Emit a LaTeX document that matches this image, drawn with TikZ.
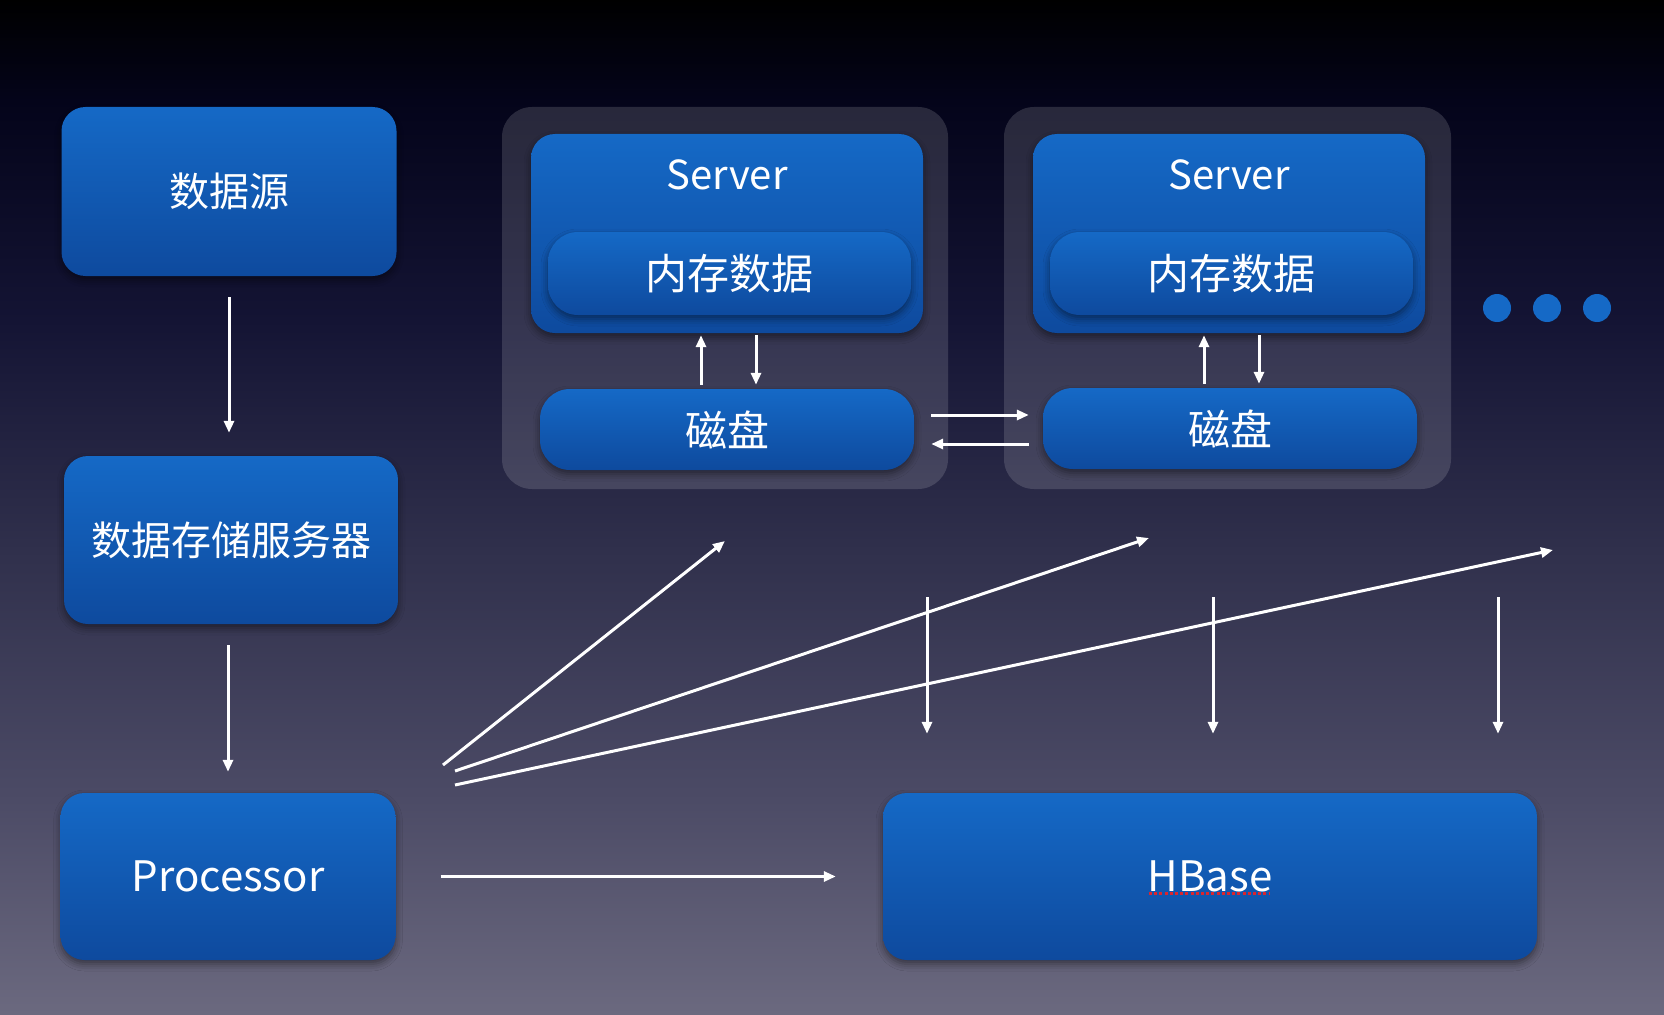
\documentclass[tikz,border=0pt]{standalone}
\usepackage{fontspec}
\setmainfont{Noto Sans CJK SC}
\usetikzlibrary{arrows.meta,shadows.blur,calc}
\definecolor{boxtop}{HTML}{1569C6}
\definecolor{boxbot}{HTML}{0E4A9E}
\definecolor{bg0}{HTML}{000000}
\definecolor{bg1}{HTML}{04041A}
\definecolor{bg2}{HTML}{141434}
\definecolor{bg3}{HTML}{30304C}
\definecolor{bg4}{HTML}{4C4B66}
\definecolor{bg5}{HTML}{6B697F}
\definecolor{ulred}{HTML}{D9262F}
\begin{document}
\begin{tikzpicture}[x=1pt,y=-1pt,
  bluebox/.style={rounded corners=24pt, top color=boxtop, bottom color=boxbot, draw=none,
    text=white, inner sep=0pt,
    blur shadow={shadow xshift=0pt, shadow yshift=-4pt, shadow blur radius=7pt, shadow opacity=45}},
  pillbox/.style={bluebox, rounded corners=30pt},
  container/.style={rounded corners=30pt, fill=white, fill opacity=0.14, draw=none, inner sep=0pt},
  lbl/.style={text=white, inner sep=0pt},
  arr/.style={draw=white, line width=3pt, -{Triangle[length=12pt,width=10pt]}},
  dotc/.style={circle, fill=boxtop, minimum size=28pt, inner sep=0pt, draw=none}
]
% background
\useasboundingbox (0,0) rectangle (1664,1014);
\shade[top color=bg0, bottom color=bg1] (0,0) rectangle (1664,101);
\shade[top color=bg1, bottom color=bg2] (0,100) rectangle (1664,321);
\shade[top color=bg2, bottom color=bg3] (0,320) rectangle (1664,551);
\shade[top color=bg3, bottom color=bg4] (0,550) rectangle (1664,801);
\shade[top color=bg4, bottom color=bg5] (0,800) rectangle (1664,1014);

% containers
\node[container, minimum width=446pt, minimum height=382pt] (c1) at (725,298) {};
\node[container, minimum width=447pt, minimum height=382pt] (c2) at (1227.5,298) {};

% left column
\node[bluebox, minimum width=335pt, minimum height=169pt, font=\fontsize{40}{48}\selectfont] (ds) at (229,191.5) {数据源};
\node[bluebox, minimum width=334pt, minimum height=168pt, font=\fontsize{40}{48}\selectfont] (st) at (231,540) {数据存储服务器};
\node[bluebox, minimum width=335pt, minimum height=167pt, font=\fontsize{42}{50}\selectfont] (proc) at (228,876.5) {Processor};
\node[bluebox, minimum width=654pt, minimum height=167pt, font=\fontsize{42}{50}\selectfont] (hb) at (1210,876.5) {HBase};

% servers
\node[bluebox, minimum width=392pt, minimum height=199pt] (s1) at (727,233.5) {};
\node[bluebox, minimum width=392pt, minimum height=199pt] (s2) at (1229,233.5) {};
\node[lbl, font=\fontsize{40}{48}\selectfont] (s1l) at (727,175) {Server};
\node[lbl, font=\fontsize{40}{48}\selectfont] (s2l) at (1229,175) {Server};
\node[pillbox, minimum width=363pt, minimum height=83pt, font=\fontsize{42}{50}\selectfont] (m1) at (729.5,273.5) {内存数据};
\node[pillbox, minimum width=363pt, minimum height=83pt, font=\fontsize{42}{50}\selectfont] (m2) at (1231.5,273.5) {内存数据};
\node[pillbox, minimum width=374pt, minimum height=81pt, font=\fontsize{42}{50}\selectfont] (d1) at (727,429.5) {磁盘};
\node[pillbox, minimum width=374pt, minimum height=81pt, font=\fontsize{42}{50}\selectfont] (d2) at (1230,428.5) {磁盘};

% dots
\node[dotc] (dot1) at (1497,308) {};
\node[dotc] (dot2) at (1547,308) {};
\node[dotc] (dot3) at (1597,308) {};

% red spell-check underline
\draw[ulred, line width=2.5pt, dash pattern=on 3pt off 2.2pt] ($(hb.center)+(-61,17)$) -- ($(hb.center)+(60,17)$);

% left column arrows
\draw[arr, shorten <=21pt, shorten >=23pt] (ds.south) -- (ds.south |- st.north);
\draw[arr, shorten <=21pt, shorten >=21pt] (st.south -| proc.north) -- (proc.north);
\draw[arr, shorten <=45pt, shorten >=47pt] (proc.east) -- (proc.east -| hb.west);

% server <-> disk arrows
\draw[arr, shorten <=4pt, shorten >=2pt] ([xshift=-26pt]d1.north) -- ([xshift=-26pt]d1.north |- s1.south);
\draw[arr, shorten <=2pt, shorten >=4pt] ([xshift=29pt]d1.north |- s1.south) -- ([xshift=29pt]d1.north);
\draw[arr, shorten <=4pt, shorten >=2pt] ([xshift=-26pt]d2.north) -- ([xshift=-26pt]d2.north |- s2.south);
\draw[arr, shorten <=2pt, shorten >=4pt] ([xshift=29pt]d2.north |- s2.south) -- ([xshift=29pt]d2.north);

% disk <-> disk
\draw[arr, shorten <=17pt, shorten >=14pt] ([yshift=14.5pt]d1.east) -- ([yshift=14.5pt]d1.east -| d2.west);
\draw[arr, shorten <=14pt, shorten >=17pt] ([yshift=-14.5pt]d1.east -| d2.west) -- ([yshift=-14.5pt]d1.east);

% diagonal arrows from Processor
\coordinate (p1) at (443,765);
\coordinate (p2) at (455,771);
\coordinate (p3) at (455,785);
\coordinate (e1) at (725,541);
\coordinate (e2) at (1149,538);
\coordinate (e3) at (1553,550);
\draw[arr] (p1) -- (e1);
\draw[arr] (p2) -- (e2);
\draw[arr] (p3) -- (e3);

% vertical arrows into HBase
\coordinate (v1) at (927,597);
\coordinate (v2) at (1213,597);
\coordinate (v3) at (1498,597);
\draw[arr, shorten >=59pt] (v1) -- (v1 |- hb.north);
\draw[arr, shorten >=59pt] (v2) -- (v2 |- hb.north);
\draw[arr, shorten >=59pt] (v3) -- (v3 |- hb.north);
\end{tikzpicture}
\end{document}
